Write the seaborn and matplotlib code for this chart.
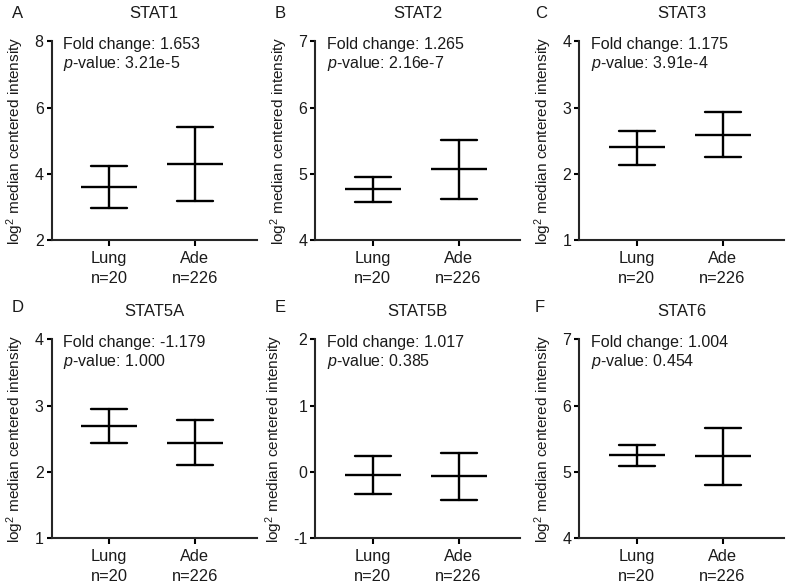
import numpy as np
import pandas as pd
import matplotlib
matplotlib.use("Agg")
import matplotlib.pyplot as plt
import seaborn as sns

# ---- data ----
genes = ["STAT1", "STAT2", "STAT3", "STAT5A", "STAT5B", "STAT6"]
letters = ["A", "B", "C", "D", "E", "F"]
groups = ["Lung\nn=20", "Ade\nn=226"]
fold_changes = ["1.653", "1.265", "1.175", "-1.179", "1.017", "1.004"]
p_values = ["3.21e-5", "2.16e-7", "3.91e-4", "1.000", "0.385", "0.454"]

lung_mean = [3.61, 4.77, 2.40, 2.69, -0.045, 5.25]
lung_low = [2.97, 4.58, 2.13, 2.44, -0.33, 5.09]
lung_high = [4.25, 4.96, 2.65, 2.945, 0.24, 5.41]
ade_mean = [4.30, 5.08, 2.59, 2.44, -0.065, 5.24]
ade_low = [3.17, 4.63, 2.25, 2.10, -0.43, 4.81]
ade_high = [5.42, 5.51, 2.94, 2.78, 0.28, 5.66]

y_limits = [(2, 8), (4, 7), (1, 4), (1, 4), (-1, 2), (4, 7)]
y_ticks = [[2, 4, 6, 8], [4, 5, 6, 7], [1, 2, 3, 4], [1, 2, 3, 4], [-1, 0, 1, 2], [4, 5, 6, 7]]

sns.set_style("ticks")
plt.rcParams["font.family"] = ["Liberation Sans", "DejaVu Sans"]
plt.rcParams["mathtext.fontset"] = "custom"
plt.rcParams["mathtext.rm"] = "Liberation Sans"
plt.rcParams["mathtext.it"] = "Liberation Sans:italic"
plt.rcParams["axes.linewidth"] = 1.5
plt.rcParams["axes.unicode_minus"] = False

TXT = "#1a1a1a"

fig = plt.figure(figsize=(7.88, 5.87), dpi=100)
W, H = 788.0, 587.0
col_left = [51.7, 315.3, 579.3]
row_top = [41.3, 339.3]
ax_w, ax_h = 205.0, 199.0

for i, gene in enumerate(genes):
    r, c = divmod(i, 3)
    left = col_left[c]
    top = row_top[r]
    ax = fig.add_axes([left / W, 1 - (top + ax_h) / H, ax_w / W, ax_h / H])

    rows = []
    for g, (lo, m, hi) in zip(groups, [(lung_low[i], lung_mean[i], lung_high[i]),
                                        (ade_low[i], ade_mean[i], ade_high[i])]):
        for v in (lo, m, hi):
            rows.append({"group": g, "value": v})
    df = pd.DataFrame(rows)

    sns.pointplot(
        data=df, x="group", y="value", order=groups,
        estimator=np.median, errorbar=lambda v: (v.min(), v.max()),
        color="black", markers="_", linestyles="none",
        markersize=40, markeredgewidth=1.7, capsize=0.42,
        err_kws={"linewidth": 1.7}, ax=ax,
    )

    ax.set_xlim(-0.67, 1.72)
    ax.set_ylim(*y_limits[i])
    ax.set_yticks(y_ticks[i])
    ax.set_xlabel("")
    ax.set_ylabel("log$^2$ median centered intensity", fontsize=11.1, labelpad=6,
                  color=TXT)
    sns.despine(ax=ax)
    ax.tick_params(axis="both", direction="out", width=1.5, colors="black",
                   labelcolor=TXT)
    ax.tick_params(axis="y", length=3.8, pad=2, labelsize=11.5)
    ax.tick_params(axis="x", length=4.5, pad=3.5, labelsize=11.8)
    for lab in ax.get_xticklabels():
        lab.set_linespacing(1.35)
    ax.set_title(gene, fontsize=12, pad=17, color=TXT)

    ax.text(0.055, 0.96, f"Fold change: {fold_changes[i]}", transform=ax.transAxes,
            fontsize=11.5, va="baseline", ha="left", color=TXT)
    ax.text(0.055, 0.864, f"$p$-value: {p_values[i]}", transform=ax.transAxes,
            fontsize=11.5, va="baseline", ha="left", color=TXT)

    lx = [12, 275, 535][c]
    ly = [18, 312][r]
    fig.text(lx / W, 1 - ly / H, letters[i], fontsize=12, va="baseline", ha="left",
             color=TXT)

fig.savefig("out.png", dpi=100)
